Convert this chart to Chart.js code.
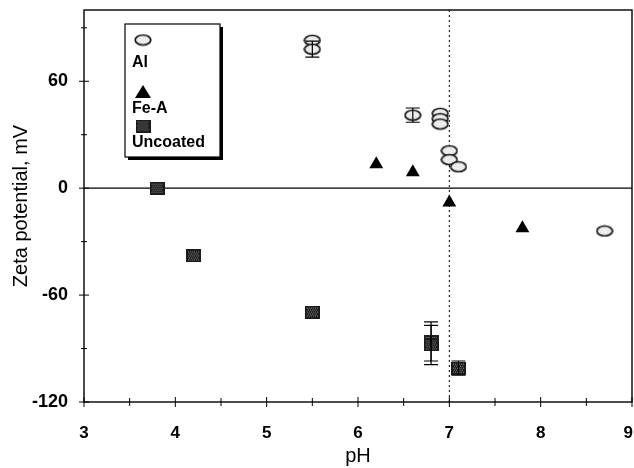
<!DOCTYPE html>
<html>
<head>
<meta charset="utf-8">
<script src="https://cdn.jsdelivr.net/npm/chart.js@4/dist/chart.umd.min.js"></script>
<style>
  html, body { margin: 0; padding: 0; background: #fff; }
  #wrap { width: 634px; height: 468px; }
</style>
</head>
<body>
<div id="wrap"><canvas id="c" width="634" height="468"></canvas></div>
<script>
// Zeta potential vs pH for Al-coated, Fe-A-coated and uncoated media
const alPH   = [5.5, 5.5, 6.6, 6.9, 6.9, 6.9, 7.0, 7.0, 7.1, 8.7];
const alZeta = [83, 78, 41, 42, 39, 36, 21, 16, 12, -24];
const alErr  = [0, 4.5, 4, 0, 0, 0, 0, 0, 0, 0];

const feaPH   = [6.2, 6.6, 7.0, 7.8];
const feaZeta = [13.5, 9, -8, -22.5];
const feaErr  = [0, 0, 0, 0];

const uncPH   = [3.8, 4.2, 5.5, 6.8, 6.8, 7.1];
const uncZeta = [0, -38, -69.5, -86, -88, -101];
const uncErr  = [0, 0, 0, 11, 11, 4];

const xTicks = [3, 4, 5, 6, 7, 8, 9];
const yTicks = [-120, -60, 0, 60];
const seriesNames = ['Al', 'Fe-A', 'Uncoated'];

const FONT = '"Liberation Sans", Arial, sans-serif';
const PLOT_RIGHT = 632;   // right edge of the plot frame

// marker images
function ellipseMarker() {
  const c = document.createElement('canvas');
  c.width = 18; c.height = 13;
  const g = c.getContext('2d');
  g.beginPath();
  g.ellipse(9, 6.5, 7.8, 5, 0, 0, Math.PI * 2);
  g.fillStyle = '#ececec';
  g.fill();
  g.lineWidth = 1.7;
  g.strokeStyle = '#111';
  g.stroke();
  return c;
}
function squareMarker() {
  const c = document.createElement('canvas');
  c.width = 15; c.height = 13;
  const g = c.getContext('2d');
  g.fillStyle = '#1c1c1c';
  g.fillRect(0, 0, 15, 13);
  g.fillStyle = '#8a8a8a';
  for (let y = 2; y < 11; y += 2) {
    for (let x = 2 + (y % 4 === 0 ? 1 : 0); x < 13; x += 2) {
      g.fillRect(x, y, 1, 1);
    }
  }
  return c;
}
const alImg = ellipseMarker();
const uncImg = squareMarker();

function pts(xs, ys, es) {
  return xs.map((x, i) => ({ x: x, y: ys[i], err: es[i] }));
}

// stretch the pH axis so the frame reaches PLOT_RIGHT
const stretchPlugin = {
  id: 'stretch',
  afterLayout(chart) {
    const x = chart.scales.x;
    const a = chart.chartArea;
    if (!x || a.right >= PLOT_RIGHT) return;
    a.right = PLOT_RIGHT;
    a.width = PLOT_RIGHT - a.left;
    x.right = PLOT_RIGHT;
    x.width = PLOT_RIGHT - x.left;
    if (typeof x.configure === 'function') x.configure();
  }
};

// axes box, ticks, pH labels, zero line and pH 7 guide
const framePlugin = {
  id: 'frame',
  beforeDatasetsDraw(chart) {
    const { ctx, chartArea: a, scales: { x, y } } = chart;
    ctx.save();
    ctx.strokeStyle = '#000';
    ctx.lineWidth = 1.3;
    // zero line
    const y0 = y.getPixelForValue(0);
    ctx.beginPath(); ctx.moveTo(a.left, y0); ctx.lineTo(a.right, y0); ctx.stroke();
    // dotted line at pH 7
    const x7 = x.getPixelForValue(7);
    ctx.lineWidth = 1;
    ctx.setLineDash([2, 3]);
    ctx.beginPath(); ctx.moveTo(x7, a.top); ctx.lineTo(x7, a.bottom); ctx.stroke();
    ctx.setLineDash([]);
    // box
    ctx.lineWidth = 1.4;
    ctx.strokeRect(a.left, a.top, a.right - a.left, a.bottom - a.top);
    // x ticks
    ctx.lineWidth = 1;
    for (let v = 3; v <= 9.001; v += 0.5) {
      const px = x.getPixelForValue(v);
      const major = Math.abs(v - Math.round(v)) < 1e-6;
      const h = major ? 5 : 4;
      ctx.beginPath(); ctx.moveTo(px, a.bottom - h); ctx.lineTo(px, a.bottom + h); ctx.stroke();
    }
    // y ticks
    for (let v = -120; v <= 90; v += 30) {
      const py = y.getPixelForValue(v);
      const major = v % 60 === 0;
      const w = major ? 5 : 3;
      ctx.beginPath(); ctx.moveTo(a.left - w, py); ctx.lineTo(a.left + w, py); ctx.stroke();
    }
    // pH tick labels, kept inside the canvas at the right end
    ctx.fillStyle = '#000';
    ctx.font = 'bold 17px ' + FONT;
    ctx.textAlign = 'center';
    ctx.textBaseline = 'middle';
    xTicks.forEach(v => {
      const s = String(v);
      const half = ctx.measureText(s).width / 2;
      const px = Math.min(x.getPixelForValue(v), chart.width - half - 1);
      ctx.fillText(s, px, a.bottom + 31);
    });
    ctx.restore();
  }
};

// vertical error bars with caps
const errorBarPlugin = {
  id: 'errbars',
  afterDatasetsDraw(chart) {
    const { ctx, scales: { x, y } } = chart;
    ctx.save();
    ctx.strokeStyle = '#000';
    ctx.lineWidth = 1.2;
    chart.data.datasets.forEach(ds => {
      ds.data.forEach(p => {
        if (!p.err) return;
        const px = x.getPixelForValue(p.x);
        const yt = y.getPixelForValue(p.y + p.err);
        const yb = y.getPixelForValue(p.y - p.err);
        ctx.beginPath();
        ctx.moveTo(px, yt); ctx.lineTo(px, yb);
        ctx.moveTo(px - 7, yt); ctx.lineTo(px + 7, yt);
        ctx.moveTo(px - 7, yb); ctx.lineTo(px + 7, yb);
        ctx.stroke();
      });
    });
    ctx.restore();
  }
};

// boxed legend with marker above each name
const legendBoxPlugin = {
  id: 'legendBox',
  afterDraw(chart) {
    const { ctx } = chart;
    const bx = 125, by = 24, bw = 95, bh = 133;
    ctx.save();
    ctx.fillStyle = '#000';
    ctx.fillRect(bx + 3, by + bh, bw, 3);
    ctx.fillRect(bx + bw, by + 3, 3, bh);
    ctx.fillStyle = '#fff';
    ctx.fillRect(bx, by, bw, bh);
    ctx.strokeStyle = '#000';
    ctx.lineWidth = 1.2;
    ctx.strokeRect(bx, by, bw, bh);

    ctx.drawImage(alImg, 143 - 9, 40 - 6.5);
    ctx.beginPath();
    ctx.moveTo(143, 85); ctx.lineTo(151, 98); ctx.lineTo(135, 98); ctx.closePath();
    ctx.fillStyle = '#000'; ctx.fill();
    ctx.drawImage(uncImg, 143 - 7.5, 126 - 6.5);

    ctx.fillStyle = '#000';
    ctx.font = 'bold 16px ' + FONT;
    ctx.textBaseline = 'middle';
    ctx.textAlign = 'left';
    ctx.fillText(seriesNames[0], 132, 63);
    ctx.fillText(seriesNames[1], 132, 109);
    ctx.fillText(seriesNames[2], 132, 143);
    ctx.restore();
  }
};

new Chart(document.getElementById('c'), {
  type: 'scatter',
  data: {
    datasets: [
      { label: seriesNames[0], data: pts(alPH, alZeta, alErr), pointStyle: alImg },
      { label: seriesNames[1], data: pts(feaPH, feaZeta, feaErr), pointStyle: 'triangle',
        pointRadius: 8, backgroundColor: '#000', borderColor: '#000', borderWidth: 0 },
      { label: seriesNames[2], data: pts(uncPH, uncZeta, uncErr), pointStyle: uncImg }
    ]
  },
  options: {
    responsive: false,
    animation: false,
    devicePixelRatio: 1,
    layout: { padding: { top: 10, right: 2, left: 0, bottom: 0 } },
    plugins: { legend: { display: false }, tooltip: { enabled: false } },
    scales: {
      x: {
        type: 'linear', min: 3, max: 9,
        afterBuildTicks: s => { s.ticks = xTicks.map(v => ({ value: v })); },
        afterFit: s => { s.height = 66; s.paddingLeft = 0; s.paddingRight = 0; },
        grid: { display: false, drawTicks: false },
        border: { display: false },
        ticks: { display: false },
        title: { display: true, text: 'pH', color: '#000',
                 font: { family: FONT, size: 20 }, padding: { top: 0, bottom: 0 } }
      },
      y: {
        type: 'linear', min: -120, max: 100,
        afterBuildTicks: s => { s.ticks = yTicks.map(v => ({ value: v })); },
        afterFit: s => { s.width = 84; s.paddingTop = 0; s.paddingBottom = 0; },
        grid: { display: false, drawTicks: false },
        border: { display: false },
        ticks: { color: '#000', padding: 16,
                 font: { family: FONT, size: 18, weight: 'bold' } },
        title: { display: true, text: 'Zeta potential, mV', color: '#000',
                 font: { family: FONT, size: 20 }, padding: { top: 9, bottom: 0 } }
      }
    }
  },
  plugins: [stretchPlugin, framePlugin, errorBarPlugin, legendBoxPlugin]
});
</script>
</body>
</html>
